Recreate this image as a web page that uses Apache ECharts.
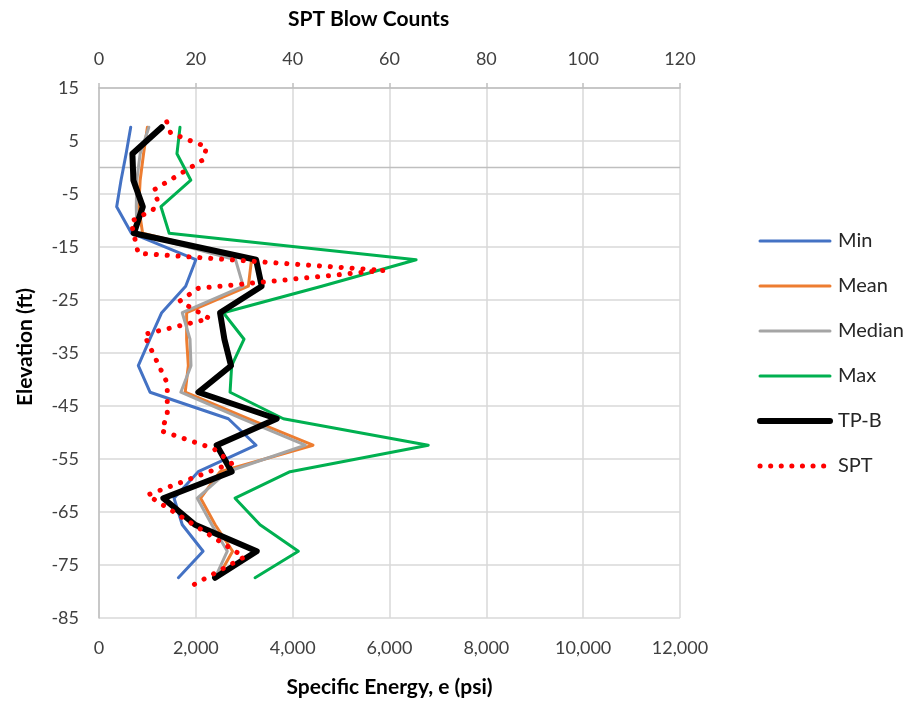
<!DOCTYPE html>
<html>
<head>
<meta charset="utf-8">
<script src="https://cdn.jsdelivr.net/npm/echarts@6/dist/echarts.min.js"></script>
<style>
  html, body { margin: 0; padding: 0; background: #fff; }
  #chart { width: 906px; height: 704px; }
</style>
</head>
<body>
<div id="chart"></div>
<script>
// Elevations (ft) shared by the specific-energy profiles
const elevations = [7.6, 2.6, -2.4, -7.4, -12.4, -17.4, -22.4, -27.4, -32.4, -37.4, -42.4, -47.4, -52.4, -57.4, -62.4, -67.4, -72.4, -77.4];

// Specific energy, e (psi)
const minE    = [655, 560, 455, 365, 670, 2000, 1790, 1295, 1050, 812, 1054, 2672, 3244, 2050, 1550, 1720, 2150, 1640];
const meanE   = [1000, 920, 850, 820, 900, 3150, 3085, 1810, 1810, 1845, 1780, 3080, 4420, 2500, 2100, 2400, 2760, 2450];
const medianE = [1030, 850, 780, 770, 780, 2820, 2980, 1720, 1880, 1900, 1690, 2950, 4260, 2650, 2030, 2330, 2650, 2400];
const maxE    = [1673, 1610, 1897, 1280, 1450, 6550, 4600, 2568, 2996, 2740, 2707, 3808, 6800, 3946, 2810, 3326, 4118, 3223];
const tpbE    = [1295, 690, 710, 905, 720, 3244, 3360, 2500, 2590, 2727, 2052, 3671, 2431, 2740, 1329, 1983, 3258, 2397];

// SPT blow counts and their sample elevations
const sptElev = [8.6, 6.5, 3.9, 1.5, -4.2, -6.0, -7.9, -10.2, -16.2, -19.4, -22.8, -25.2, -28.5, -31.5, -40.7, -46.7, -49.7, -53.0, -55.8, -61.8, -73.5, -78.8];
const sptN    = [14, 14.8, 22.2, 21.6, 11.4, 12.0, 11.2, 6.6, 8.1, 58.8, 20.5, 16.7, 22.8, 9.3, 14.1, 14.1, 12.9, 23.6, 27.4, 10.0, 30.0, 19.4];

// Axis ranges
const elevRange = { min: -85, max: 15, step: 10 };
const energyRange = { min: 0, max: 12000, step: 2000 };
const sptRange = { min: 0, max: 120, step: 20 };

const FONT = 'Lato, "Noto Sans", sans-serif';

// Line look of each profile
const styles = {
  'Min':    { color: '#4472C4', width: 3 },
  'Mean':   { color: '#ED7D31', width: 3 },
  'Median': { color: '#A5A5A5', width: 3 },
  'Max':    { color: '#00B050', width: 3 },
  'TP-B':   { color: '#000000', width: 6 }
};
const sptDots = { color: '#FF0000', width: 5, type: [0.1, 10.8] };

function pairs(xs, ys) { return xs.map((x, i) => [x, ys[i]]); }

function profile(name, values) {
  const s = styles[name];
  return {
    name: name,
    type: 'line',
    xAxisIndex: 0,
    yAxisIndex: 0,
    data: pairs(values, elevations),
    symbol: 'none',
    lineStyle: { color: s.color, width: s.width, join: 'round', cap: 'round' },
    itemStyle: { color: s.color },
    animation: false
  };
}

const legendItems = Object.keys(styles).map(name => ({
  name: name,
  itemStyle: { opacity: 0 },
  lineStyle: { color: styles[name].color, width: styles[name].width, cap: 'round' }
}));
legendItems.push({
  name: 'SPT',
  itemStyle: { opacity: 0 },
  lineStyle: { color: sptDots.color, width: sptDots.width, type: [0.1, 10.5], cap: 'round' }
});

const chart = echarts.init(document.getElementById('chart'), null, { renderer: 'canvas' });

chart.setOption({
  backgroundColor: '#ffffff',
  animation: false,
  textStyle: { fontFamily: FONT },
  grid: { left: 99, right: 226, top: 88, bottom: 86, containLabel: false },
  legend: {
    data: legendItems,
    orient: 'vertical',
    left: 752,
    top: 226,
    itemWidth: 70,
    itemHeight: 20,
    itemGap: 25,
    itemStyle: { opacity: 0 },
    textStyle: { fontFamily: FONT, fontSize: 20, color: '#262626', padding: [0, 0, 0, 3] },
    selectedMode: false
  },
  xAxis: [
    {
      type: 'value',
      position: 'bottom',
      min: energyRange.min, max: energyRange.max, interval: energyRange.step,
      name: 'Specific Energy, e (psi)',
      nameLocation: 'middle',
      nameGap: 59,
      nameTextStyle: { fontFamily: FONT, fontSize: 21, fontWeight: 'bold', color: '#000' },
      axisLine: { show: false, onZero: false },
      axisTick: { show: false },
      axisLabel: {
        margin: 21, fontSize: 18, color: '#404040', fontFamily: FONT,
        formatter: v => v.toLocaleString('en-US')
      },
      splitLine: { show: true, lineStyle: { color: '#D9D9D9', width: 1.5 } }
    },
    {
      type: 'value',
      position: 'top',
      min: sptRange.min, max: sptRange.max, interval: sptRange.step,
      name: 'SPT Blow Counts',
      nameLocation: 'middle',
      nameGap: 58,
      nameTextStyle: { fontFamily: FONT, fontSize: 21, fontWeight: 'bold', color: '#000', padding: [0, 42, 0, 0] },
      axisLine: { show: true, onZero: false, lineStyle: { color: '#BFBFBF', width: 1.5 } },
      axisTick: { show: true, inside: false, length: 5, lineStyle: { color: '#BFBFBF', width: 1.5 } },
      axisLabel: { margin: 20, fontSize: 18, color: '#404040', fontFamily: FONT },
      splitLine: { show: false }
    }
  ],
  yAxis: {
    type: 'value',
    min: elevRange.min, max: elevRange.max, interval: elevRange.step,
    name: 'Elevation (ft)',
    nameLocation: 'middle',
    nameGap: 63,
    nameRotate: 90,
    nameTextStyle: { fontFamily: FONT, fontSize: 21, fontWeight: 'bold', color: '#000', padding: [0, 0, 0, 12] },
    axisLine: { show: true, onZero: false, lineStyle: { color: '#BFBFBF', width: 1.5 } },
    axisTick: { show: false },
    axisLabel: { margin: 20, fontSize: 18, color: '#404040', fontFamily: FONT },
    splitLine: { show: true, lineStyle: { color: '#D9D9D9', width: 1.5 } }
  },
  series: [
    {
      // horizontal axis line through elevation 0
      name: 'zero',
      type: 'line',
      xAxisIndex: 0, yAxisIndex: 0,
      data: [[energyRange.min, 0], [energyRange.max, 0]],
      symbol: 'none',
      silent: true,
      z: 1,
      lineStyle: { color: '#BFBFBF', width: 1.5 },
      animation: false
    },
    profile('Min', minE),
    profile('Mean', meanE),
    profile('Median', medianE),
    profile('Max', maxE),
    profile('TP-B', tpbE),
    {
      name: 'SPT',
      type: 'line',
      xAxisIndex: 1,
      yAxisIndex: 0,
      data: pairs(sptN, sptElev),
      symbol: 'none',
      lineStyle: { color: sptDots.color, width: sptDots.width, type: sptDots.type, cap: 'round', join: 'round' },
      itemStyle: { color: sptDots.color },
      animation: false
    }
  ]
});
</script>
</body>
</html>
